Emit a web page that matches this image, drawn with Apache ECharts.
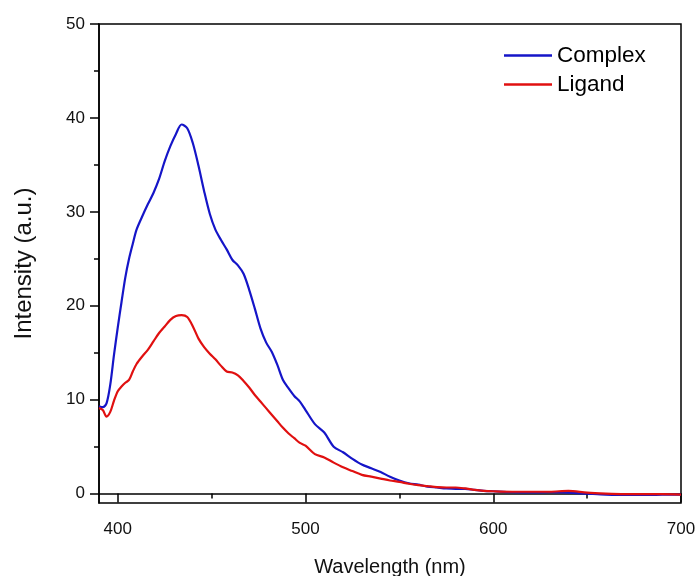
<!DOCTYPE html>
<html>
<head>
<meta charset="utf-8">
<script src="https://cdn.jsdelivr.net/npm/echarts@6/dist/echarts.min.js"></script>
<style>
html,body{margin:0;padding:0;background:#fff;}
#chart{width:697px;height:576px;}
</style>
</head>
<body>
<div id="chart"></div>
<script>
const wavelength = [390,392,394,396,398,400,402,404,406,408,410,413,416,419,422,425,428,431,434,437,440,443,446,449,452,455,458,461,464,467,470,473,476,479,482,485,488,491,494,497,500,505,510,515,520,525,530,535,540,545,550,555,560,565,570,575,580,585,590,595,600,610,620,630,640,650,660,670,680,690,700];
const complexVals = [9.3,9.2,9.6,11.6,14.8,17.7,20.4,23.0,25.0,26.6,28.1,29.5,30.8,32.0,33.5,35.4,37.0,38.3,39.3,38.9,37.3,34.9,32.2,29.8,28.1,27.0,26.0,24.9,24.3,23.4,21.7,19.7,17.6,16.1,15.1,13.7,12.1,11.2,10.4,9.8,8.9,7.4,6.5,5.0,4.4,3.7,3.1,2.7,2.3,1.8,1.4,1.1,0.95,0.75,0.65,0.55,0.5,0.5,0.4,0.3,0.25,0.15,0.12,0.15,0.1,0.0,-0.1,-0.15,-0.15,-0.1,-0.1];
const ligandVals = [9.1,8.9,8.2,8.7,9.9,10.9,11.4,11.8,12.1,13.0,13.8,14.6,15.3,16.2,17.1,17.8,18.5,18.9,19.0,18.8,17.8,16.5,15.6,14.9,14.3,13.6,13.0,12.9,12.6,12.0,11.3,10.5,9.8,9.1,8.4,7.7,7.0,6.4,5.9,5.4,5.1,4.2,3.85,3.3,2.8,2.4,2.0,1.8,1.6,1.4,1.25,1.05,0.9,0.8,0.7,0.65,0.65,0.55,0.4,0.3,0.25,0.2,0.2,0.2,0.3,0.1,0.0,-0.05,-0.05,-0.05,-0.1];
const xMajorTicks = [400,500,600,700];
const xMinorTicks = [450,550,650];
const yMajorTicks = [0,10,20,30,40,50];
const yMinorTicks = [5,15,25,35,45];
const seriesNames = ['Complex','Ligand'];

const pair = (xs, ys) => xs.map((x, i) => [x, ys[i]]);
const FONT = '"Liberation Sans", Arial, sans-serif';

const chart = echarts.init(document.getElementById('chart'), null, {renderer: 'canvas'});
chart.setOption({
  animation: false,
  backgroundColor: '#fff',
  grid: {left: 99, top: 24, right: 16, bottom: 73, show: true, borderColor: '#000', borderWidth: 1.5,
         containLabel: false, outerBoundsMode: 'none'},
  legend: {
    orient: 'vertical', left: 504, top: 44, padding: 0, itemWidth: 48, itemHeight: 2.5, itemGap: 6,
    icon: 'rect',
    textStyle: {fontFamily: FONT, fontSize: 22.5, color: '#000'},
    data: seriesNames
  },
  xAxis: [{
    type: 'value', min: 390, max: 700, position: 'bottom',
    axisLine: {show: true, lineStyle: {color: '#000', width: 1.5}},
    axisTick: {show: true, customValues: xMajorTicks, length: 9, lineStyle: {color: '#000', width: 1.5}},
    axisLabel: {customValues: xMajorTicks, margin: 18, fontFamily: FONT, fontSize: 17, color: '#111'},
    splitLine: {show: false},
    name: 'Wavelength (nm)', nameLocation: 'middle', nameGap: 54,
    nameTextStyle: {fontFamily: FONT, fontSize: 20, color: '#111'}
  }, {
    type: 'value', min: 390, max: 700, position: 'bottom',
    axisLine: {show: false},
    axisTick: {show: true, customValues: xMinorTicks, length: 5, lineStyle: {color: '#000', width: 1.5}},
    axisLabel: {show: false}, splitLine: {show: false}
  }],
  yAxis: [{
    type: 'value', min: -1, max: 50, position: 'left',
    axisLine: {show: true, lineStyle: {color: '#000', width: 1.5}},
    axisTick: {show: true, customValues: yMajorTicks, length: 9, lineStyle: {color: '#000', width: 1.5}},
    axisLabel: {customValues: yMajorTicks, margin: 14, fontFamily: FONT, fontSize: 17, color: '#111'},
    splitLine: {show: false},
    name: 'Intensity (a.u.)', nameLocation: 'middle', nameGap: 63,
    nameTextStyle: {fontFamily: FONT, fontSize: 24, color: '#111'}
  }, {
    type: 'value', min: -1, max: 50, position: 'left',
    axisLine: {show: false},
    axisTick: {show: true, customValues: yMinorTicks, length: 5, lineStyle: {color: '#000', width: 1.5}},
    axisLabel: {show: false}, splitLine: {show: false}
  }],
  series: [{
    name: seriesNames[0], type: 'line', data: pair(wavelength, complexVals),
    symbol: 'none', smooth: 0.3, lineStyle: {color: '#1515c8', width: 2.2}, itemStyle: {color: '#1515c8'}
  }, {
    name: seriesNames[1], type: 'line', data: pair(wavelength, ligandVals),
    symbol: 'none', smooth: 0.3, lineStyle: {color: '#e01010', width: 2.2}, itemStyle: {color: '#e01010'}
  }]
});
</script>
</body>
</html>
